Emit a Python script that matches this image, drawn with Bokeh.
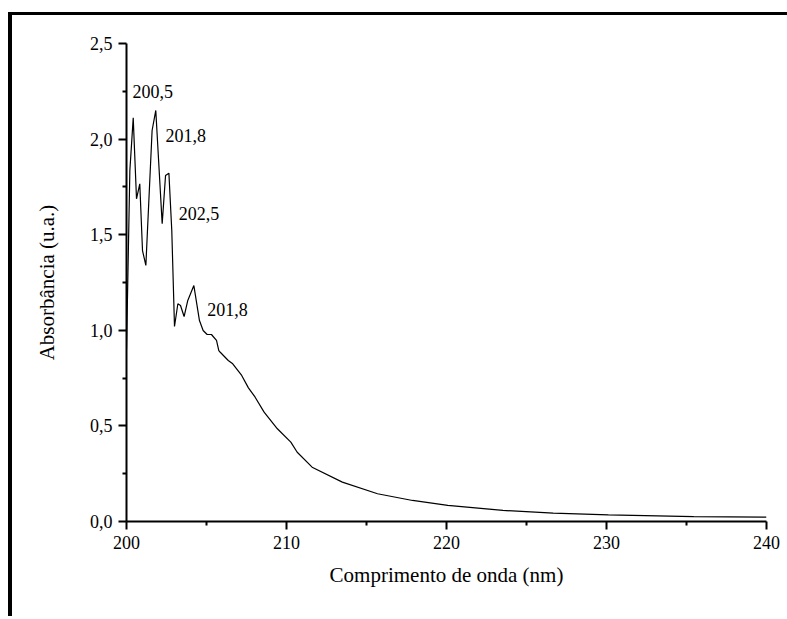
from bokeh.plotting import figure
from bokeh.models import Range1d, FixedTicker, ColumnDataSource
from bokeh.core.properties import value
from bokeh.embed import file_html
from bokeh.resources import INLINE

# Spectrum (wavelength in nm, absorbance in a.u.)
wavelength = [200.0, 200.21, 200.42, 200.625, 200.83, 201.0, 201.21, 201.6, 201.83,
              202.23, 202.44, 202.65, 202.83, 203.0, 203.21, 203.375, 203.6, 203.83,
              204.21, 204.56, 204.79, 205.04, 205.31, 205.625, 205.77, 205.86, 206.36,
              206.64, 207.2, 207.62, 208.04, 208.6, 209.43, 210.27, 210.67,
              211.6, 213.49, 215.69, 217.88, 220.08, 223.53, 226.67, 230.12, 235.45, 240.0]
absorbance = [0.90, 1.836, 2.111, 1.688, 1.766, 1.417, 1.339, 2.045, 2.15,
              1.557, 1.81, 1.822, 1.522, 1.02, 1.139, 1.13, 1.072, 1.156,
              1.234, 1.051, 0.999, 0.978, 0.978, 0.947, 0.894, 0.885, 0.842,
              0.825, 0.764, 0.699, 0.65, 0.572, 0.485, 0.415, 0.362,
              0.284, 0.206, 0.145, 0.11, 0.084, 0.058, 0.044, 0.035, 0.026, 0.023]

# Peak annotations
peak_text = ["200,5", "201,8", "202,5", "201,8"]
peak_x = [200.375, 202.44, 203.27, 205.04]
peak_y = [2.25, 2.02, 1.61, 1.11]

# Axes
x_ticks = [200, 210, 220, 230, 240]
x_minor = [205, 215, 225, 235]
x_tick_labels = ["200", "210", "220", "230", "240"]
y_ticks = [0, 0.5, 1, 1.5, 2, 2.5]
y_minor = [0.25, 0.75, 1.25, 1.75, 2.25]
y_tick_labels = ["0,0", "0,5", "1,0", "1,5", "2,0", "2,5"]

FONT = "Liberation Serif"

p = figure(width=775, height=604, x_range=Range1d(200, 240), y_range=Range1d(0, 2.5),
           output_backend="svg", toolbar_location=None,
           min_border_left=114, min_border_right=21, min_border_top=28, min_border_bottom=98)
p.background_fill_color = "white"
p.border_fill_color = "white"
p.outline_line_color = None
p.grid.visible = False
# page frame lines (top and left) drawn as shadows of the host element
p.styles = {"position": "relative", "left": "12px", "top": "15px",
            "overflow": "hidden",
            "box-shadow": "-4px -3px 0 0 black, 0 -3px 0 0 black"}

p.line(wavelength, absorbance, line_color="black", line_width=1.2)

src = ColumnDataSource(dict(x=peak_x, y=peak_y, t=peak_text))
p.text(x="x", y="y", text="t", source=src, text_font=value(FONT), text_font_size="18px",
       text_color="black", text_align="left", text_baseline="alphabetic")

for ax in (p.xaxis[0], p.yaxis[0]):
    ax.axis_line_width = 2
    ax.axis_line_color = "black"
    ax.major_tick_line_width = 2
    ax.minor_tick_line_width = 2
    ax.major_tick_out = 8
    ax.major_tick_in = 0
    ax.minor_tick_out = 4
    ax.minor_tick_in = 0
    ax.major_label_text_font = FONT
    ax.major_label_text_font_size = "18px"
    ax.major_label_text_color = "black"
    ax.axis_label_text_font = FONT
    ax.axis_label_text_font_size = "21px"
    ax.axis_label_text_font_style = "normal"
    ax.axis_label_text_color = "black"

p.xaxis.ticker = FixedTicker(ticks=x_ticks, minor_ticks=x_minor)
p.xaxis.major_label_overrides = dict(zip(x_ticks, x_tick_labels))
p.xaxis.axis_label = "Comprimento de onda (nm)"
p.xaxis.major_label_standoff = 6
p.xaxis.axis_label_standoff = 11

p.yaxis.ticker = FixedTicker(ticks=y_ticks, minor_ticks=y_minor)
p.yaxis.major_label_overrides = dict(zip(y_ticks, y_tick_labels))
p.yaxis.axis_label = "Absorbância (u.a.)"
p.yaxis.major_label_standoff = 6
p.yaxis.axis_label_standoff = 28

open("out.html", "w").write(file_html(p, INLINE))
